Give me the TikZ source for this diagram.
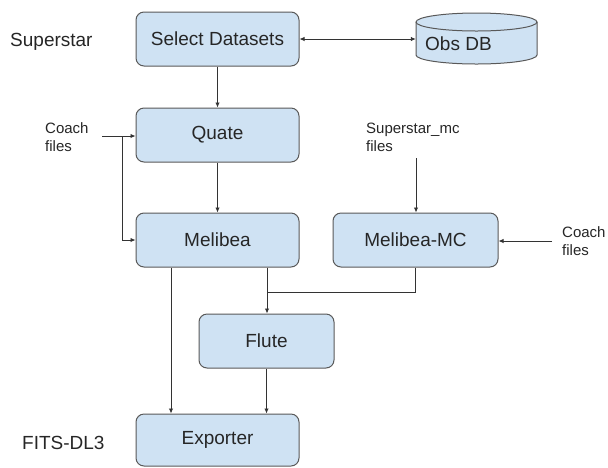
\documentclass[tikz,border=0pt]{standalone}
\usepackage{fontspec}
\setmainfont{Liberation Sans}
\usetikzlibrary{arrows.meta,calc}
\definecolor{boxfill}{HTML}{CFE2F3}
\definecolor{boxline}{HTML}{595959}
\definecolor{lineclr}{HTML}{333333}
\definecolor{txt}{HTML}{262626}
\begin{document}
\begin{tikzpicture}[x=1pt,y=1pt,
  procbox/.style={draw=boxline, fill=boxfill, line width=1pt, rounded corners=8pt,
    minimum width=163pt, minimum height=54pt, inner sep=0pt, text=txt,
    font=\fontsize{19}{22}\selectfont},
  small/.style={align=left, inner sep=0pt, text=txt, anchor=west,
    font=\fontsize{15}{18}\selectfont},
  big/.style={inner sep=0pt, text=txt, anchor=west, font=\fontsize{19}{22}\selectfont},
  conn/.style={draw=lineclr, line width=0.9pt},
  arr/.style={conn, -{Latex[length=5pt,width=4.5pt]}},
  darr/.style={conn, {Latex[length=5pt,width=4.5pt]}-{Latex[length=5pt,width=4.5pt]}}
]
\useasboundingbox (0,0) rectangle (608,-467);

% boxes
\node[procbox] (sel) at (217.5,-39) {Select Datasets};
\node[procbox] (quate) at (217.5,-135) {Quate};
\node[procbox] (mel) at (217.5,-240) {Melibea};
\node[procbox, minimum width=165pt] (mc) at (415.5,-240) {Melibea-MC};
\node[procbox, minimum width=135pt] (flute) at (266.5,-341) {Flute};
\node[procbox, minimum height=52pt] (exp) at (217.5,-440) {Exporter};

% cylinder Obs DB
\node[minimum width=121pt, minimum height=51pt, inner sep=0pt] (obs) at (476.5,-38.5) {};
\filldraw[draw=boxline, fill=boxfill, line width=1pt]
  (416,-22) -- (416,-55) arc (180:360:60.5 and 9) -- (537,-22) arc (0:180:60.5 and 9) -- cycle;
\draw[draw=boxline, line width=1pt] (416,-22) arc (180:360:60.5 and 9);
\node[big] (obstext) at (425,-44) {Obs DB};

% labels
\node[big] (superstar) at (10,-42) {Superstar};
\node[big] (fits) at (22,-443) {FITS-DL3};
\node[small] (coachl) at (45,-137.5) {Coach\\files};
\node[small] (smc) at (366,-137) {Superstar\_mc\\files};
\node[small] (coachr) at (562,-241.5) {Coach\\files};

% connectors
\draw[darr] (sel.east) -- (sel.east -| obs.west);
\draw[arr] (sel.south) -- (quate.north);
\draw[arr] (quate.south) -- (mel.north);

\coordinate (c1) at (102,-136);
\coordinate (j1) at (122,-136);
\draw[arr] (c1) -- (c1 -| quate.west);
\draw[arr] (j1) |- (mel.west);

\coordinate (ma) at ([xshift=-46.5pt]mel.south);
\coordinate (mb) at ([xshift=49.5pt]mel.south);
\coordinate (jn) at (267,-292);
\draw[arr] (ma) -- (ma |- exp.north);
\draw[arr] (mb) -- (mb |- flute.north);
\draw[conn] (mc.south) |- (jn);

\draw[arr] (flute.south) -- (flute.south |- exp.north);

\coordinate (s1) at (416,-158);
\draw[arr] (s1) -- (s1 |- mc.north);
\coordinate (r1) at (552,-241);
\draw[arr] (r1) -- (r1 -| mc.east);
\end{tikzpicture}
\end{document}
